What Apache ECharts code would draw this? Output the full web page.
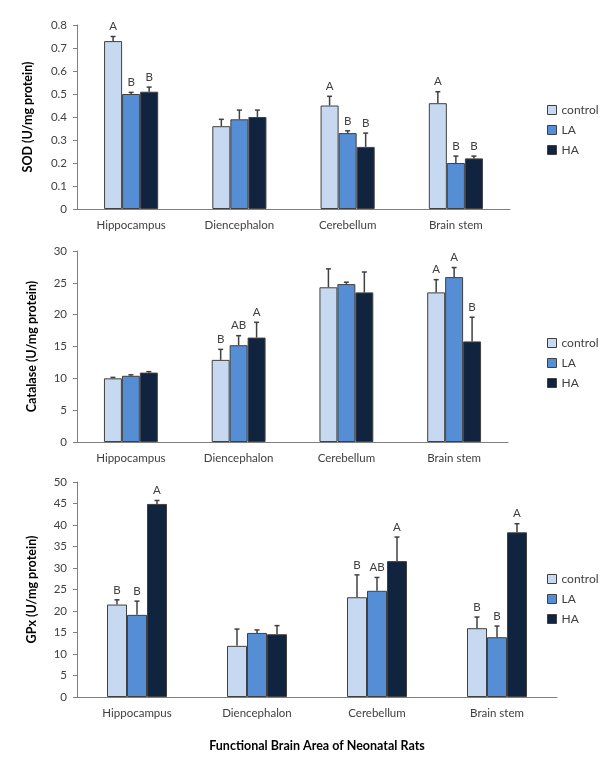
<!DOCTYPE html>
<html>
<head>
<meta charset="utf-8">
<script src="https://cdn.jsdelivr.net/npm/echarts@6/dist/echarts.min.js"></script>
<style>
  html, body { margin: 0; padding: 0; background: #fff; }
  #chart { width: 600px; height: 760px; }
</style>
</head>
<body>
<div id="chart"></div>
<script>
var categories = ['Hippocampus', 'Diencephalon', 'Cerebellum', 'Brain stem'];
var groups = ['control', 'LA', 'HA'];

// rows: control, LA, HA
var sodValues = [
  [0.73, 0.36, 0.45, 0.46],
  [0.50, 0.39, 0.33, 0.20],
  [0.51, 0.40, 0.27, 0.22]
];
var sodErrors = [
  [0.02, 0.03, 0.04, 0.05],
  [0.007, 0.04, 0.01, 0.03],
  [0.02, 0.03, 0.06, 0.01]
];
var sodLetters = [
  ['A', '', 'A', 'A'],
  ['B', '', 'B', 'B'],
  ['B', '', 'B', 'B']
];

var catalaseValues = [
  [10.0, 12.9, 24.3, 23.5],
  [10.4, 15.2, 24.8, 25.9],
  [10.9, 16.4, 23.5, 15.8]
];
var catalaseErrors = [
  [0.15, 1.65, 2.9, 2.0],
  [0.15, 1.5, 0.3, 1.5],
  [0.15, 2.4, 3.2, 3.8]
];
var catalaseLetters = [
  ['', 'B', '', 'A'],
  ['', 'AB', '', 'A'],
  ['', 'A', '', 'B']
];

var gpxValues = [
  [21.5, 11.9, 23.2, 16.0],
  [19.1, 14.9, 24.7, 13.9],
  [44.9, 14.6, 31.6, 38.3]
];
var gpxErrors = [
  [1.1, 3.9, 5.2, 2.6],
  [3.2, 0.7, 3.1, 2.6],
  [0.8, 2.0, 5.6, 2.0]
];
var gpxLetters = [
  ['B', '', 'B', 'B'],
  ['B', '', 'AB', 'B'],
  ['A', '', 'A', 'A']
];

var yNames = ['SOD (U/mg protein)', 'Catalase (U/mg protein)', 'GPx (U/mg protein)'];
var yMax = [0.8, 30, 50];
var yStep = [0.1, 5, 5];

var colors = ['#c6d9f1', '#558ed5', '#10243f'];
var font = 'Lato';
var catGap = 0.5;

var panels = [
  { values: sodValues, errors: sodErrors, letters: sodLetters },
  { values: catalaseValues, errors: catalaseErrors, letters: catalaseLetters },
  { values: gpxValues, errors: gpxErrors, letters: gpxLetters }
];

var chart = echarts.init(document.getElementById('chart'));

var grids = [
  { left: 77, top: 25, width: 433, height: 184 },
  { left: 77, top: 251, width: 431, height: 191 },
  { left: 77, top: 482, width: 480, height: 215 }
];
var legendTops = [104, 337, 573];
var nameGaps = [43, 39, 39];

var xAxes = [], yAxes = [], series = [], legends = [];

grids.forEach(function (g, p) {
  xAxes.push({
    type: 'category',
    gridIndex: p,
    data: categories,
    axisLine: { lineStyle: { color: '#7f7f7f', width: 1 } },
    axisTick: { show: false },
    axisLabel: { color: '#404040', fontSize: 11.5, fontFamily: font, margin: 10 },
    name: p === 2 ? 'Functional Brain Area of Neonatal Rats' : '',
    nameLocation: 'middle',
    nameGap: 42,
    nameTextStyle: { color: '#000', fontSize: 12.5, fontWeight: 'bold', fontFamily: font }
  });
  yAxes.push({
    type: 'value',
    gridIndex: p,
    min: 0,
    max: yMax[p],
    interval: yStep[p],
    name: yNames[p],
    nameLocation: 'middle',
    nameGap: nameGaps[p],
    nameTextStyle: { color: '#000', fontSize: 12.5, fontWeight: 'bold', fontFamily: font },
    axisLine: { show: true, lineStyle: { color: '#7f7f7f', width: 1 } },
    axisTick: { show: true, length: 4, lineStyle: { color: '#7f7f7f' } },
    axisLabel: { color: '#404040', fontSize: 11.5, fontFamily: font, margin: 10 },
    splitLine: { show: false }
  });
  legends.push({
    data: groups,
    orient: 'vertical',
    left: 547,
    top: legendTops[p],
    padding: 0,
    icon: 'rect',
    itemWidth: 9,
    itemHeight: 9,
    itemGap: 8,
    itemStyle: { borderColor: '#404040', borderWidth: 1 },
    textStyle: { color: '#404040', fontSize: 12, fontFamily: font }
  });

  var panel = panels[p];
  groups.forEach(function (name, s) {
    series.push({
      name: name,
      type: 'bar',
      xAxisIndex: p,
      yAxisIndex: p,
      data: panel.values[s],
      barGap: '0%',
      barCategoryGap: (catGap * 100) + '%',
      itemStyle: { color: colors[s], borderColor: '#404040', borderWidth: 1 }
    });
  });
  groups.forEach(function (name, s) {
    var data = panel.values[s].map(function (v, i) {
      return [i, v + panel.errors[s][i], v];
    });
    series.push({
      type: 'custom',
      xAxisIndex: p,
      yAxisIndex: p,
      z: 5,
      data: data,
      silent: true,
      renderItem: function (params, api) {
        var cat = api.value(0);
        var band = api.size([1, 0])[0];
        var bw = band * (1 - catGap) / 3;
        var base = api.coord([cat, api.value(2)]);
        var topPt = api.coord([cat, api.value(1)]);
        var x = base[0] + (s - 1) * bw;
        var y0 = base[1], y1 = topPt[1];
        var stroke = { stroke: '#404040', lineWidth: 1.5 };
        var children = [
          { type: 'line', shape: { x1: x, y1: y0, x2: x, y2: y1 }, style: stroke },
          { type: 'line', shape: { x1: x - 2.5, y1: y1, x2: x + 2.5, y2: y1 }, style: stroke }
        ];
        var letter = panel.letters[s][params.dataIndex];
        if (letter) {
          children.push({
            type: 'text',
            style: {
              text: letter, x: x, y: y1 - 4,
              align: 'center', verticalAlign: 'bottom',
              fill: '#404040', fontSize: 11.5, fontFamily: font
            }
          });
        }
        return { type: 'group', children: children };
      }
    });
  });
});

var option = {
  animation: false,
  textStyle: { fontFamily: font },
  grid: grids,
  xAxis: xAxes,
  yAxis: yAxes,
  legend: legends,
  series: series
};

chart.setOption(option);

window.addEventListener('resize', function () {
  chart.resize();
});
</script>
</body>
</html>
